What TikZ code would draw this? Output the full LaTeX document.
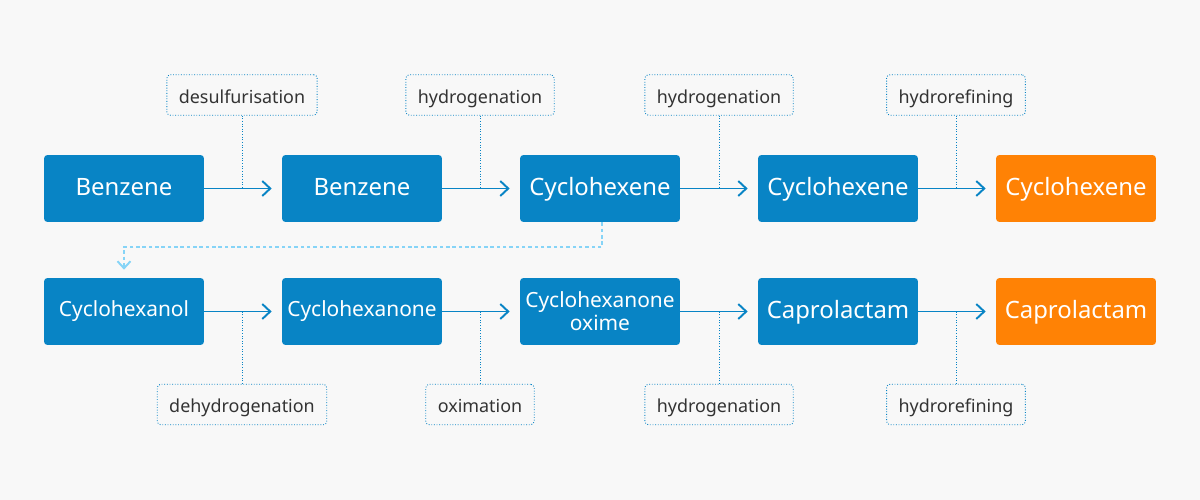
\documentclass[tikz,border=0pt]{standalone}
\usepackage{fontspec}
\setmainfont{Noto Sans}
\usetikzlibrary{arrows.meta,positioning}
\definecolor{procblue}{HTML}{0884C5}
\definecolor{prodorange}{HTML}{FF8205}
\definecolor{linkblue}{HTML}{86D4F7}
\definecolor{labeltext}{HTML}{333333}
\definecolor{bggrey}{HTML}{F8F8F8}

\begin{document}
\begin{tikzpicture}[x=0.02cm,y=-0.02cm,
    stepbox/.style={fill=#1, rounded corners=2pt, minimum width=3.2cm, minimum height=1.34cm,
                    text=white, align=center, inner sep=1pt},
    bigtext/.style={font=\fontsize{13.6}{14}\selectfont, text height=0.74em, text depth=0em},
    smalltext/.style={font=\fontsize{11.9}{13.2}\selectfont},
    opbox/.style={draw=procblue, densely dotted, line width=0.5pt, rounded corners=2pt,
                  minimum height=0.81cm, inner xsep=0.24cm, text=labeltext,
                  text height=0.94em, text depth=0em,
                  font=\fontsize{10.2}{11}\selectfont},
    flow/.style={-{Straight Barb[length=1.6mm,width=3mm]}, procblue, line width=1.1pt, shorten >=2mm},
    oplink/.style={procblue, densely dotted, line width=0.5pt},
    loopback/.style={-{Straight Barb[length=1.4mm,width=2.6mm]}, linkblue, line width=1.1pt,
                     dash pattern=on 2pt off 1.6pt, shorten >=1.6mm}]

  % background
  \fill[bggrey] (0,0) rectangle (1200,500);

  % process steps
  \foreach \i/\x/\y/\t/\c/\f in {1/124/188.5/Benzene/procblue/bigtext,
                                2/362/188.5/Benzene/procblue/bigtext,
                                3/600/188.5/Cyclohexene/procblue/bigtext,
                                4/838/188.5/Cyclohexene/procblue/bigtext,
                                5/1076/188.5/Cyclohexene/prodorange/bigtext,
                                6/124/311.5/Cyclohexanol/procblue/smalltext,
                                7/362/311.5/Cyclohexanone/procblue/smalltext,
                                8/600/311.5/{Cyclohexanone\\oxime}/procblue/smalltext,
                                9/838/311.5/Caprolactam/procblue/bigtext,
                                10/1076/311.5/Caprolactam/prodorange/bigtext}
    { \node[stepbox=\c, \f] (b\i) at (\x,\y) {\t}; }

  % operations
  \foreach \i/\x/\y/\t in {1/242/95/desulfurisation, 2/480/95/hydrogenation,
                           3/719/95/hydrogenation, 4/956/95/hydrorefining,
                           6/242/404.5/dehydrogenation, 7/480/404.5/oximation,
                           8/719/404.5/hydrogenation, 9/956/404.5/hydrorefining}
    { \node[opbox] (op\i) at (\x,\y) {\t}; }

  \foreach \i/\j in {1/2, 2/3, 3/4, 4/5, 6/7, 7/8, 8/9, 9/10}
    { \draw[flow] (b\i) -- (b\j);
      \ifnum\i<5 \draw[oplink] (op\i.south) -- (op\i.south |- b\i.east);
      \else \draw[oplink] (op\i.north) -- (op\i.north |- b\i.east); \fi }

  % row change
  \coordinate (turn) at (602,247);
  \draw[loopback] (turn |- b3.south) -- (turn) -| (b6.north);
\end{tikzpicture}
\end{document}
